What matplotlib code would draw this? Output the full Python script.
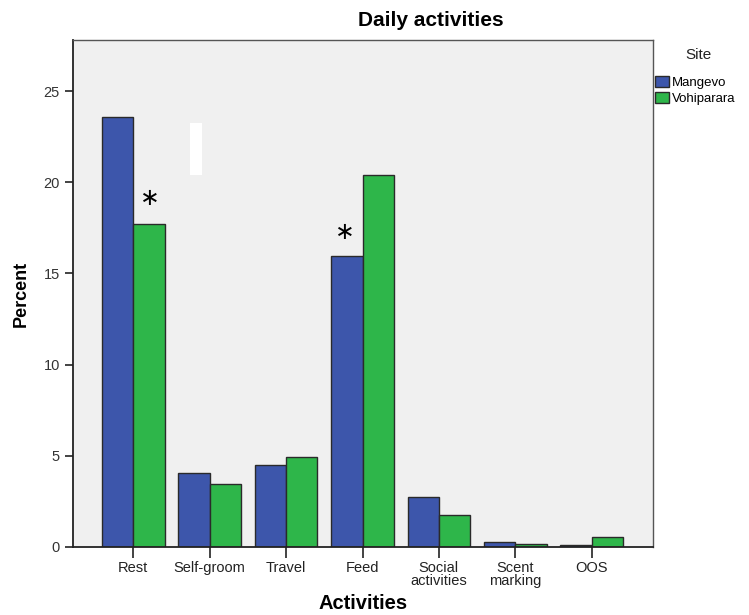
import matplotlib.pyplot as plt
import numpy as np
from matplotlib.patches import Rectangle

plt.rcParams['font.family'] = ['Liberation Sans', 'DejaVu Sans']

activities = ['Rest', 'Self-groom', 'Travel', 'Feed', 'Social\nactivities', 'Scent\nmarking', 'OOS']
mangevo = [23.57, 4.03, 4.49, 15.93, 2.73, 0.26, 0.13]
vohiparara = [17.7, 3.46, 4.93, 20.38, 1.77, 0.18, 0.55]
sites = ['Mangevo', 'Vohiparara']
site_colors = ['#3D56AB', '#2EB64A']

# asterisks marking the significant differences: (x, y) in data units
star_pos = [(0.22, 19.12), (2.77, 17.27)]

fig = plt.figure(figsize=(7.49, 6.15), dpi=100)
ax = fig.add_axes([0.0975, 0.1106, 0.774, 0.8244])
ax.set_facecolor('#F0F0F0')

x = np.arange(len(activities))
w = 0.41
ax.bar(x - w / 2, mangevo, w, color=site_colors[0], edgecolor='#2A2A2A', linewidth=1.0, label=sites[0])
ax.bar(x + w / 2, vohiparara, w, color=site_colors[1], edgecolor='#2A2A2A', linewidth=1.0, label=sites[1])

for sx, sy in star_pos:
    ax.text(sx, sy, '\u2217', ha='center', va='center', fontsize=17, color='black',
            family=['DejaVu Sans'])

# small white strip in the plot area
ax.add_patch(Rectangle((0.742, 20.38), 0.153, 2.86, facecolor='white', edgecolor='none', zorder=3))

ax.set_xlim(-0.79, 6.80)
ax.set_ylim(0, 27.8)
ax.set_yticks([0, 5, 10, 15, 20, 25])
ax.set_xticks(x)
ax.set_xticklabels(activities, fontsize=10.5, color='#222222', linespacing=0.95)
ax.tick_params(axis='y', labelsize=10.5, labelcolor='#333333', length=6, width=1.2, color='#222222')
ax.tick_params(axis='x', length=8, width=1.2, color='#222222', pad=2)

for side in ['left', 'bottom']:
    ax.spines[side].set_color('#222222')
    ax.spines[side].set_linewidth(1.3)
for side in ['top', 'right']:
    ax.spines[side].set_color('#555555')
    ax.spines[side].set_linewidth(1.0)

ax.set_xlabel('Activities', fontsize=14.5, fontweight='bold', labelpad=4)
ax.set_ylabel('Percent', fontsize=13, fontweight='bold', labelpad=10)
fig.text(0.575, 0.967, 'Daily activities', ha='center', va='center', fontsize=15, fontweight='bold')

fig.text(0.932, 0.91, 'Site', ha='center', va='center', fontsize=11, color='#222222')
ax.legend(loc='upper left', bbox_to_anchor=(0.874, 0.877), bbox_transform=fig.transFigure,
          frameon=False, fontsize=9.5, handlelength=1.1, handleheight=0.9,
          handletextpad=0.2, labelspacing=0.25, borderpad=0, borderaxespad=0)

fig.savefig('out.png', dpi=100)
